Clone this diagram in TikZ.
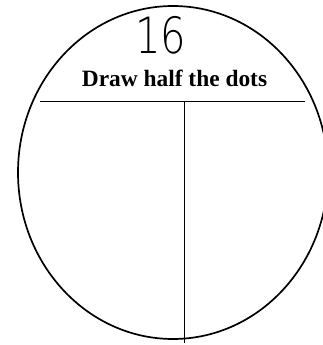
\documentclass[tikz,border=0pt]{standalone}
\usepackage{fontspec}
\setmainfont{Liberation Serif}
\newfontfamily\numfont{DejaVu Sans ExtraLight}
\begin{document}
\begin{tikzpicture}[x=1pt,y=-1pt,
  outline/.style={line width=1.7pt, draw=black},
  rule/.style={line width=1.8pt, draw=black}]
\useasboundingbox (0,0) rectangle (322,345);
\draw[outline] (173,172.5) ellipse [x radius=155, y radius=166.5];
\node[inner sep=0pt, xscale=0.8] (num) at (160.5,35) {\numfont\fontsize{50}{50}\selectfont 16};
\node[inner sep=0pt, anchor=base] (title) at (174.5,86) {\fontsize{23.4}{24}\selectfont\bfseries Draw half the dots};
\coordinate (hl) at (40,101.5);
\coordinate (hr) at (305,101.5);
\coordinate (vt) at (184.5,101.5);
\coordinate (vb) at (184.5,343);
\draw[rule] (hl) -- (hr);
\draw[rule] (vt) -- (vb);
\end{tikzpicture}
\end{document}
